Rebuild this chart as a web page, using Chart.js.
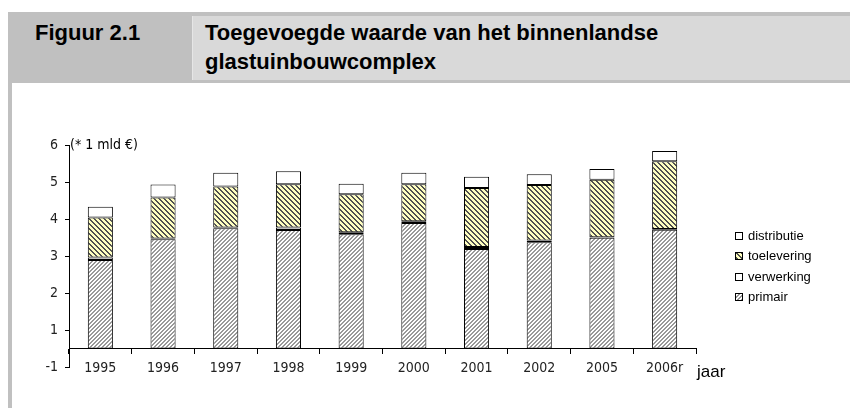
<!DOCTYPE html>
<html>
<head>
<meta charset="utf-8">
<script src="https://cdn.jsdelivr.net/npm/chart.js@4/dist/chart.umd.min.js"></script>
<style>
  html, body { margin:0; padding:0; background:#fff; }
  #wrap { position:relative; width:850px; height:408px; overflow:hidden; background:#fff; }
  .abs { position:absolute; }
  .hdr { font-family:'Liberation Sans', Arial, sans-serif; font-weight:bold; font-size:22px; color:#000; white-space:nowrap; line-height:29px; }
  .lg { font-family:'Liberation Sans', Arial, sans-serif; font-size:13px; color:#000; white-space:nowrap; line-height:16px; }
  .sw { position:absolute; left:0; top:4px; width:8px; height:8px; }
  canvas#c { position:absolute; left:0; top:0; }
</style>
</head>
<body>
<div id="wrap">
  <div class="abs" style="left:8px;top:12px;width:842px;height:71px;background:#c0c0c0;"></div>
  <div class="abs" style="left:193px;top:16px;width:657px;height:64px;background:#d9d9d9;"></div>
  <div class="abs" style="left:192px;top:16px;width:1px;height:64px;background:#e6e6e6;"></div>
  <div class="abs" style="left:8px;top:83px;width:4px;height:325px;background:#c0c0c0;"></div>
  <div class="abs hdr" style="left:35px;top:18px;">Figuur 2.1</div>
  <div class="abs hdr" style="left:205px;top:18px;">Toegevoegde waarde van het binnenlandse<br>glastuinbouwcomplex</div>

  <canvas id="c" width="850" height="408"></canvas>

  <div class="abs lg" style="left:70px;top:136px;font-family:'DejaVu Sans Condensed','Liberation Sans',sans-serif;font-size:14px;">(* 1 mld €)</div>
  <div class="abs" style="left:697px;top:362px;font-family:'Liberation Sans',Arial,sans-serif;font-size:17px;">jaar</div>
  <div id="legend" class="abs" style="left:735px;top:228px;"></div>
</div>
<script>
// ---- data ----
const categories = ['1995','1996','1997','1998','1999','2000','2001','2002','2005','2006r'];
const primair     = [2.89, 3.45, 3.75, 3.70, 3.59, 3.89, 3.19, 3.37, 3.49, 3.71];
const verwerking  = [0.07, 0.02, 0.02, 0.07, 0.05, 0.05, 0.05, 0.05, 0.02, 0.02];
const toelevering = [1.08, 1.11, 1.11, 1.17, 1.03, 1.00, 1.60, 1.50, 1.55, 1.83];
const distributie = [0.29, 0.35, 0.37, 0.35, 0.28, 0.31, 0.30, 0.29, 0.29, 0.28];
const yTickLabels = ['-1','1','2','3','4','5','6'];
const seriesNames = ['primair','verwerking','toelevering','distributie'];
const axisBase = 0.5;

// ---- patterns ----
function patCanvas(bg, fg, dir, period, on) {
  const p = document.createElement('canvas');
  p.width = period; p.height = period;
  const g = p.getContext('2d');
  g.fillStyle = bg; g.fillRect(0,0,period,period);
  g.fillStyle = fg;
  for (let x=0;x<period;x++) for (let y=0;y<period;y++) {
    const k = dir === '/' ? (x+y)%period : ((x-y)%period+period)%period;
    if (k < on) g.fillRect(x,y,1,1);
  }
  return p;
}
const ctxMain = document.getElementById('c').getContext('2d');
const pcPrim = patCanvas('#ffffff', '#999999', '/', 4, 2);
const pcToel = patCanvas('#ffffc0', '#505050', '\\', 5, 2);
const patPrimair = ctxMain.createPattern(pcPrim,'repeat');
const patToel = ctxMain.createPattern(pcToel,'repeat');
const fills = [patPrimair, '#ffffff', patToel, '#ffffff'];
const values = [primair, verwerking, toelevering, distributie];

const axisFont = {family:"'DejaVu Sans Condensed','Liberation Sans',sans-serif", size:14};

const datasets = seriesNames.map((n,i) => {
  const d = {
    label:n, data:values[i], backgroundColor:fills[i],
    borderColor:'#000', borderWidth:1, borderSkipped:false,
    barPercentage:0.4, categoryPercentage:1
  };
  if (i===0) d.base = axisBase;
  return d;
});

new Chart(document.getElementById('c'), {
  type:'bar',
  data:{labels:categories, datasets:datasets},
  options:{
    responsive:false, animation:false, maintainAspectRatio:false,
    layout:{padding:{left:29, right:154, top:145, bottom:41}},
    plugins:{legend:{display:false}, tooltip:{enabled:false}},
    scales:{
      x:{
        stacked:true, position:{y:axisBase},
        grid:{offset:true, drawOnChartArea:false, tickLength:5, color:'#000', lineWidth:1},
        border:{display:true, color:'#000', width:1},
        ticks:{font:axisFont, color:'#222', padding:6, maxRotation:0, autoSkip:false}
      },
      y:{
        stacked:true, min:0, max:6,
        afterFit:(s)=>{ s.width = 40; },
        grid:{drawOnChartArea:false, tickLength:4, color:'#000', lineWidth:1},
        border:{display:true, color:'#000', width:1},
        ticks:{stepSize:1, font:axisFont, color:'#222', padding:7,
               callback:(v)=> yTickLabels[v]}
      }
    }
  }
});

// ---- legend (reverse order) ----
const lg = document.getElementById('legend');
[3,2,1,0].forEach((i,k) => {
  const row = document.createElement('div');
  row.className = 'abs lg';
  row.style.left = '0px'; row.style.top = (k*20.4)+'px';
  row.style.paddingLeft = '13px';
  const sw = document.createElement('canvas');
  sw.width = 8; sw.height = 8; sw.className = 'sw';
  const g = sw.getContext('2d');
  g.fillStyle = (i===0) ? g.createPattern(pcPrim,'repeat')
              : (i===2) ? g.createPattern(pcToel,'repeat') : '#ffffff';
  g.fillRect(0,0,8,8);
  g.strokeStyle = '#000'; g.lineWidth = 1; g.strokeRect(0.5,0.5,7,7);
  row.appendChild(sw);
  row.appendChild(document.createTextNode(seriesNames[i]));
  lg.appendChild(row);
});
</script>
</body>
</html>
